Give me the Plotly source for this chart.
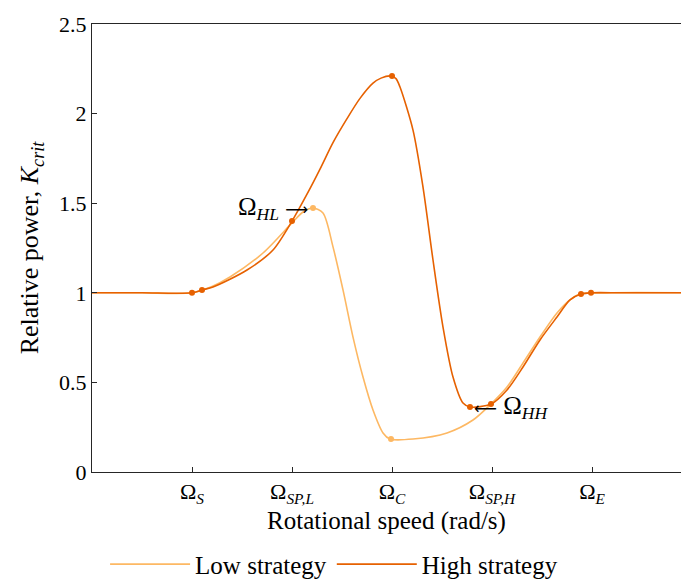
import plotly.graph_objects as go

# ---- data ----
x_low = [0, 0.5, 1.0, 1.2, 1.38, 1.71, 2.0, 2.11, 2.21, 2.31, 2.41, 2.51, 2.61, 2.71, 2.81, 2.91, 2.98,
         3.21, 3.55, 3.81, 3.98, 4.15, 4.31, 4.48, 4.65, 4.78, 4.88, 5.2, 5.89]
y_low = [1, 1, 1, 1.035, 1.088, 1.222, 1.39, 1.451, 1.473, 1.445, 1.256, 1.016, 0.753, 0.530, 0.346, 0.218, 0.184,
         0.184, 0.218, 0.290, 0.374, 0.474, 0.608, 0.753, 0.887, 0.960, 0.993, 1, 1]

x_high = [0, 0.5, 1.0, 1.1, 1.21, 1.55, 1.81, 2.0, 2.15, 2.28, 2.41, 2.55, 2.68, 2.81, 2.89, 2.99, 3.04, 3.08,
          3.21, 3.31, 3.41, 3.51, 3.61, 3.71, 3.78, 3.99, 4.15, 4.31, 4.48, 4.65, 4.78, 4.89, 4.99, 5.3, 5.89]
y_high = [1, 1, 1, 1.016, 1.032, 1.127, 1.239, 1.40, 1.550, 1.690, 1.838, 1.972, 2.085, 2.170, 2.198, 2.21, 2.195,
          2.148, 1.908, 1.590, 1.183, 0.809, 0.530, 0.385, 0.363, 0.379, 0.458, 0.586, 0.737, 0.865, 0.960, 0.993,
          1.0, 1, 1]

mk_high_x = [1.0, 1.1, 2.0, 3.0, 3.78, 3.99, 4.89, 4.99]
mk_high_y = [1.0, 1.016, 1.40, 2.21, 0.363, 0.379, 0.993, 1.0]
mk_low_x = [2.21, 2.99]
mk_low_y = [1.473, 0.184]

tick_vals = [1, 2, 3, 4, 5]
tick_text = ["Ω<sub><i>S</i></sub>", "Ω<sub><i>SP,L</i></sub>", "Ω<sub><i>C</i></sub>",
             "Ω<sub><i>SP,H</i></sub>", "Ω<sub><i>E</i></sub>"]
y_tick_vals = [0, 0.5, 1, 1.5, 2, 2.5]
y_tick_text = ["0", "0.5", "1", "1.5", "2", "2.5"]

C_LOW = "#FDB863"
C_HIGH = "#E66101"
FONT = "Liberation Serif, DejaVu Serif, DejaVu Sans"
AX = "#262626"

fig = go.Figure()
fig.add_trace(go.Scatter(x=x_low, y=y_low, mode="lines", name="Low strategy",
                         line=dict(color=C_LOW, width=1.6, shape="spline", smoothing=0.8)))
fig.add_trace(go.Scatter(x=x_high, y=y_high, mode="lines", name="High strategy",
                         line=dict(color=C_HIGH, width=1.6, shape="spline", smoothing=0.8)))
fig.add_trace(go.Scatter(x=mk_low_x, y=mk_low_y, mode="markers", showlegend=False,
                         marker=dict(color=C_LOW, size=6)))
fig.add_trace(go.Scatter(x=mk_high_x, y=mk_high_y, mode="markers", showlegend=False,
                         marker=dict(color=C_HIGH, size=6)))

ARROW_R = '<span style="font-family:DejaVu Sans;font-size:16px">⟶</span>'
ARROW_L = '<span style="font-family:DejaVu Sans;font-size:16px">⟵</span>'
fig.add_annotation(x=2.18, y=1.47, xref="x", yref="y", text="Ω<sub><i>HL</i></sub> " + ARROW_R,
                   showarrow=False, xanchor="right", yanchor="middle",
                   font=dict(family=FONT, size=25, color="black"))
fig.add_annotation(x=3.80, y=0.36, xref="x", yref="y", text=ARROW_L + " Ω<sub><i>HH</i></sub>",
                   showarrow=False, xanchor="left", yanchor="middle",
                   font=dict(family=FONT, size=25, color="black"))

fig.update_layout(
    width=681, height=580,
    margin=dict(l=92, r=0, t=24, b=108),
    paper_bgcolor="white", plot_bgcolor="white",
    font=dict(family=FONT, size=22, color=AX),
    showlegend=True,
    legend=dict(orientation="h", x=0.411, xanchor="center", yref="container", y=0.027,
                yanchor="middle",
                font=dict(family=FONT, size=25, color="black"), itemwidth=80,
                bgcolor="rgba(0,0,0,0)"),
    xaxis=dict(range=[0, 5.89], tickvals=tick_vals, ticktext=tick_text,
               showgrid=False, zeroline=False, showline=True, linecolor=AX, linewidth=1,
               mirror=True, ticks="inside", ticklen=5, tickcolor=AX,
               title=dict(text="Rotational speed (rad/s)", standoff=4,
                          font=dict(family=FONT, size=25, color="black")),
               tickfont=dict(family=FONT, size=22, color="black")),
    yaxis=dict(range=[0, 2.5], tickvals=y_tick_vals, ticktext=y_tick_text,
               showgrid=False, zeroline=False, showline=True, linecolor=AX, linewidth=1,
               ticks="inside", ticklen=5, tickcolor=AX,
               title=dict(text="Relative power, <i>K</i><sub><i>crit</i></sub>", standoff=12,
                          font=dict(family=FONT, size=26, color="black")),
               tickfont=dict(family=FONT, size=22, color="black")),
)

fig.write_html("out.html")
